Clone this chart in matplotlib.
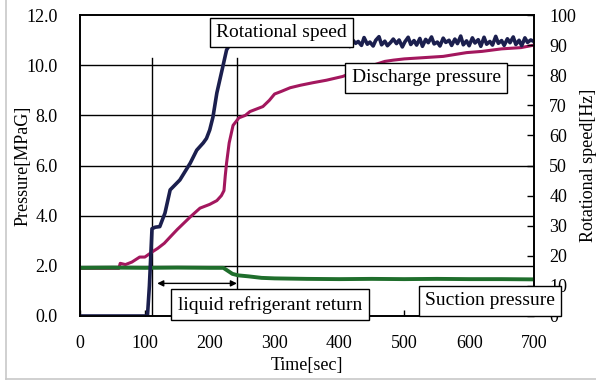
import matplotlib
matplotlib.use("Agg")
import matplotlib.pyplot as plt
from matplotlib.lines import Line2D

plt.rcParams['font.family'] = ['Liberation Serif', 'DejaVu Serif']

# ---- data ----
rot_t = [0, 60, 104, 107, 111, 116, 123, 131, 139, 154, 170, 180, 190, 195, 200, 205,
         211, 219, 226, 232, 240, 250, 260, 270, 280, 290, 300, 310, 320, 330, 340,
         344, 348, 353, 357, 362, 366, 371, 375, 380, 384, 389, 393, 398, 402, 407,
         411, 416, 420, 425, 429, 434, 438, 443, 447, 452, 456, 461, 465, 470, 474,
         479, 483, 488, 492, 497, 501, 506, 510, 515, 519, 524, 528, 533, 537, 542,
         546, 551, 555, 560, 564, 569, 573, 578, 582, 587, 591, 596, 600, 605, 609,
         614, 618, 623, 627, 632, 636, 641, 645, 650, 654, 659, 663, 668, 672, 677,
         681, 686, 690, 695, 700]
rot_hz = [0, 0, 0, 10, 29.0, 29.5, 29.7, 34.2, 41.9, 45.2, 50.8, 55.1, 57.5, 59.0, 61.8, 66.1,
          74.1, 81.7, 88.4, 90.5, 90.0, 91.0, 90.2, 91.2, 90.0, 91.0, 90.5, 91.3, 90.2, 91.0, 90.4,
          92.3, 91.0, 89.6, 92.0, 90.8, 91.9, 89.9, 91.2, 90.4, 92.6, 90.9, 89.8, 91.4, 92.1, 90.2,
          90.7, 89.5, 91.8, 90.6, 91.2, 89.9, 92.5, 90.3, 91.0, 89.7, 91.6, 92.8, 90.1, 91.3, 89.8,
          90.9, 92.0, 90.5, 91.7, 89.4, 91.1, 92.6, 90.2, 91.5, 90.0, 92.2, 89.6, 91.9, 90.8, 92.7,
          90.4, 91.0, 89.7, 92.3, 90.9, 91.6, 89.9, 92.0, 90.5, 93.0, 90.1, 91.4, 89.8, 92.4, 90.7,
          91.8, 89.6, 92.6, 90.3, 91.2, 90.0, 92.9, 90.6, 91.5, 89.9, 92.1, 90.8, 92.7, 90.2, 91.6,
          89.8, 92.4, 90.9, 91.7, 91.2]

dis_t = [0, 30, 60, 62, 70, 80, 92, 100, 111, 120, 130, 139, 150, 160, 170, 185, 200,
         211, 218, 222, 224, 226, 230, 236, 245, 255, 262, 272, 282, 292, 300, 310,
         324, 340, 359, 380, 405, 440, 470, 483, 500, 530, 560, 596, 620, 650, 680, 700]
dis_p = [1.90, 1.90, 1.90, 2.10, 2.05, 2.15, 2.35, 2.35, 2.55, 2.70, 2.90, 3.15, 3.45,
         3.70, 3.95, 4.30, 4.45, 4.60, 4.80, 5.00, 5.60, 6.10, 6.90, 7.60, 7.90, 8.00,
         8.15, 8.25, 8.35, 8.60, 8.85, 8.95, 9.10, 9.20, 9.30, 9.40, 9.55, 9.90, 10.15,
         10.20, 10.25, 10.30, 10.35, 10.50, 10.55, 10.65, 10.70, 10.80]

suc_t = [0, 50, 100, 150, 200, 221, 228, 235, 244, 260, 280, 300, 350, 400, 450, 500,
         550, 600, 650, 700]
suc_p = [1.92, 1.93, 1.92, 1.93, 1.92, 1.92, 1.80, 1.68, 1.62, 1.58, 1.52, 1.50, 1.48,
         1.47, 1.48, 1.47, 1.48, 1.47, 1.47, 1.46]

event_t = [111, 242]
event_top = 10.3
arrow_span = [119, 242]
arrow_y = 1.3

p_ticks = [0, 2, 4, 6, 8, 10, 12]
hz_ticks = [0, 10, 20, 30, 40, 50, 60, 70, 80, 90, 100]
t_ticks = [0, 100, 200, 300, 400, 500, 600, 700]

C_ROT = '#1b1f4e'
C_DIS = '#a3175e'
C_SUC = '#1f6e2c'

fig = plt.figure(figsize=(5.96, 3.82), dpi=100)
ax = fig.add_axes([80/596, 66/382, 454/596, 301/382])
ax2 = ax.twinx()

ax.set_xlim(0, 700)
ax.set_ylim(0, 12)
ax2.set_ylim(0, 100)

# horizontal grid
for p in p_ticks[1:-1]:
    ax.axhline(p, color='black', lw=1.0, zorder=1)

# event vertical lines
for et in event_t:
    ax.plot([et, et], [0, event_top], color='black', lw=1.0, zorder=1)

ax.plot(dis_t, dis_p, color=C_DIS, lw=2.2, zorder=3)
ax.plot(suc_t, suc_p, color=C_SUC, lw=2.8, zorder=3)
ax2.plot(rot_t, rot_hz, color=C_ROT, lw=2.6, zorder=2)

ax.annotate('', xy=(arrow_span[0], arrow_y), xytext=(arrow_span[1], arrow_y),
            arrowprops=dict(arrowstyle='<|-|>', color='black', lw=1.0,
                            shrinkA=0, shrinkB=0, mutation_scale=9), zorder=4)

ax.set_xticks(t_ticks)
ax.set_yticks(p_ticks)
ax.set_yticklabels([f'{v:.1f}' for v in p_ticks])
ax2.set_yticks(hz_ticks)

fs = 13
ax.tick_params(axis='y', length=0, pad=16, labelsize=fs)
ax.tick_params(axis='x', direction='in', length=4, width=1, pad=14, labelsize=fs)
ax2.tick_params(axis='y', direction='in', length=5, width=1, pad=11, labelsize=fs)

for a in (ax, ax2):
    for s in a.spines.values():
        s.set_linewidth(1.2)
        s.set_color('black')

ax.set_xlabel('Time[sec]', fontsize=fs, labelpad=3)
ax.set_ylabel('Pressure[MPaG]', fontsize=fs, labelpad=-4)
ax2.set_ylabel('Rotational speed[Hz]', fontsize=fs, labelpad=3)

box = dict(boxstyle='square,pad=0.33', fc='white', ec='black', lw=1.0)
tk = dict(fontsize=14, ha='center', va='center', bbox=box, zorder=6,
          transform=ax.transData, clip_on=False)
ax2.text(311, 11.3, 'Rotational speed', **tk)
ax2.text(534, 9.5, 'Discharge pressure', **tk)
ax2.text(293, 0.45, 'liquid refrigerant return', **tk)
ax2.text(632, 0.6, 'Suction pressure', **tk)

# faint page border
fig.add_artist(Line2D([6/596, 6/596], [3/382, 1.0], color='#c8c8c8', lw=1.2,
                      transform=fig.transFigure))
fig.add_artist(Line2D([6/596, 1.0], [3/382, 3/382], color='#c8c8c8', lw=1.2,
                      transform=fig.transFigure))

fig.savefig('out.png', dpi=100)
